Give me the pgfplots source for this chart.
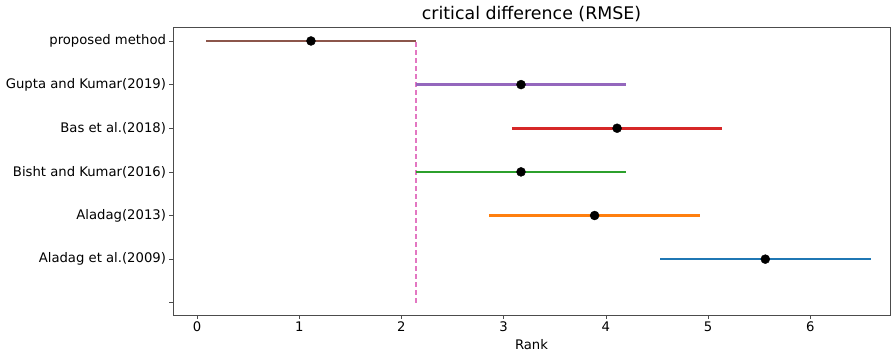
\documentclass[border=0pt]{standalone}
\usepackage{pgfplots}
\pgfplotsset{compat=1.18}
\usepackage{fontspec}
\setmainfont{DejaVu Sans}
\definecolor{tabblue}{HTML}{1F77B4}
\definecolor{taborange}{HTML}{FF7F0E}
\definecolor{tabgreen}{HTML}{2CA02C}
\definecolor{tabred}{HTML}{D62728}
\definecolor{tabpurple}{HTML}{9467BD}
\definecolor{tabbrown}{HTML}{8C564B}
\definecolor{tabpink}{HTML}{E377C2}
\begin{document}
\begin{tikzpicture}
\path[use as bounding box] (-173bp,-39bp) rectangle (719bp,315bp);
\begin{axis}[
  at={(0,0)}, anchor=south west,
  scale only axis, width=717bp, height=288bp,
  xmin=-0.235, xmax=6.78, ymin=-0.28, ymax=6.32,
  xtick={0,1,2,3,4,5,6},
  ytick={0,1,2,3,4,5,6},
  yticklabels={{},{Aladag et al.(2009)},{Aladag(2013)},{Bisht and Kumar(2016)},{Bas et al.(2018)},{Gupta and Kumar(2019)},{proposed method}},
  xtick pos=bottom, ytick pos=left,
  tick align=outside, major tick length=3.5bp,
  tick style={black!70, line width=0.6bp},
  axis line style={black!70, line width=0.8bp},
  ticklabel style={font=\fontsize{13.2bp}{15bp}\selectfont},
  /pgf/number format/assume math mode=true,
  xlabel={Rank},
  xlabel style={font=\fontsize{13.2bp}{15bp}\selectfont, yshift=-1bp},
  title={critical difference (RMSE)},
  title style={font=\fontsize{17.4bp}{19bp}\selectfont, yshift=-4bp},
  clip=false,
]
\addplot[draw=tabpink, dash pattern=on 5bp off 3bp, line width=1.6bp] coordinates {(2.14,0) (2.14,6)};
\addplot[tabblue, line width=2.6bp] coordinates {(4.53,1) (6.59,1)};
\addplot[taborange, line width=2.6bp] coordinates {(2.86,2) (4.92,2)};
\addplot[tabgreen, line width=2.6bp] coordinates {(2.14,3) (4.20,3)};
\addplot[tabred, line width=2.6bp] coordinates {(3.08,4) (5.14,4)};
\addplot[tabpurple, line width=2.6bp] coordinates {(2.14,5) (4.20,5)};
\addplot[tabbrown, line width=2.6bp] coordinates {(0.088,6) (2.14,6)};
\addplot[only marks, mark=*, black, mark size=4.5bp] coordinates {
(5.56,1) (3.89,2) (3.17,3) (4.11,4) (3.17,5) (1.115,6)};
\end{axis}
\end{tikzpicture}
\end{document}
